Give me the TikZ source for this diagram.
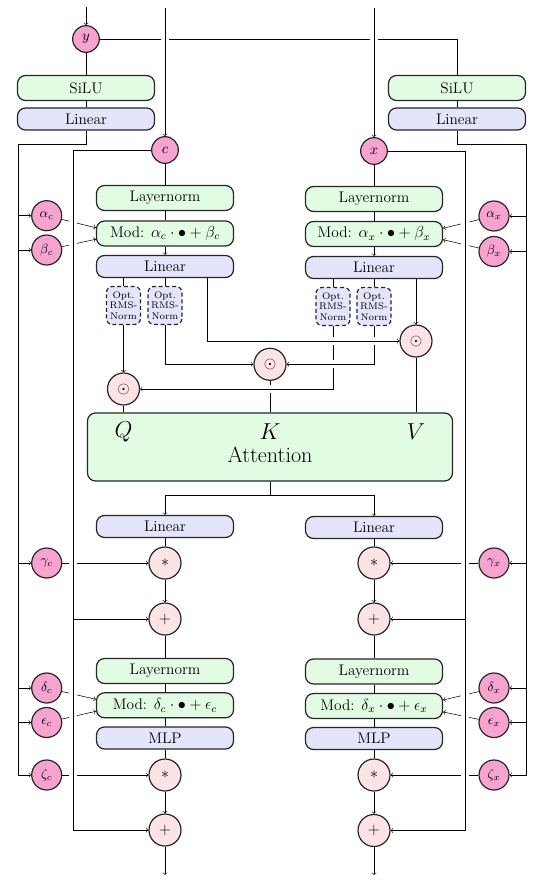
\documentclass[tikz,border=0pt]{standalone}
\usetikzlibrary{calc}
\definecolor{pinkc}{RGB}{246,163,208}
\definecolor{greenf}{RGB}{226,252,228}
\definecolor{bluef}{RGB}{228,228,250}
\definecolor{opf}{RGB}{252,228,230}
\pgfdeclarelayer{bg}
\pgfsetlayers{bg,main}
\tikzset{
  base/.style={draw=black!85, line width=0.9pt, inner sep=0pt},
  gbox/.style={base, rounded corners=6pt, fill=greenf, minimum width=102.75pt, minimum height=18.75pt, font=\fontsize{11.5}{13}\selectfont},
  bbox/.style={gbox, fill=bluef, minimum height=16.5pt},
  rms/.style={base, dashed, dash pattern=on 3pt off 2pt, rounded corners=4.5pt, fill=bluef, minimum width=25.5pt, minimum height=28.5pt, align=center, font=\fontsize{7.2}{7.8}\selectfont},
  inp/.style={base, circle, fill=pinkc, minimum size=20pt, font=\fontsize{11}{13}\selectfont},
  par/.style={base, circle, fill=pinkc, minimum size=22.5pt, font=\fontsize{10}{12}\selectfont},
  op/.style={base, circle, fill=opf, minimum size=24pt, font=\fontsize{11.5}{13}\selectfont},
  attbox/.style={base, rounded corners=6pt, fill=greenf, minimum width=273.75pt, minimum height=51pt},
  qkv/.style={inner sep=0pt, font=\fontsize{16.6}{19}\selectfont},
  halo/.style={preaction={draw=white, line width=6pt, -}},
}
\begin{document}
\begin{tikzpicture}[x=0.75pt,y=-0.75pt, line width=0.9pt, >=to]
\useasboundingbox (0,0) rectangle (538,880);
% top conditioning
\node[inp] (yin) at (86,39) {$y$};
\node[gbox] (siluL) at (86,88) {SiLU};
\node[bbox] (linL) at (86,119) {Linear};
\node[gbox] (siluR) at (457,88) {SiLU};
\node[bbox] (linR) at (457,119) {Linear};
\node[inp] (cin) at (165,150) {$c$};
\node[inp] (xin) at (374,151) {$x$};
% first block
\node[gbox] (lnc1) at (165,198) {Layernorm};
\node[gbox] (modc1) at (165,233.5) {Mod: $\alpha_c\cdot\bullet+\beta_c$};
\node[bbox] (linc1) at (165,266.5) {Linear};
\node[gbox] (lnx1) at (374,199) {Layernorm};
\node[gbox] (modx1) at (374,234) {Mod: $\alpha_x\cdot\bullet+\beta_x$};
\node[bbox] (linx1) at (374,267.5) {Linear};
\node[rms] (rmsqc) at (123.5,305.5) {Opt.\\RMS-\\Norm};
\node[rms] (rmskc) at (165,305.5) {Opt.\\RMS-\\Norm};
\node[rms] (rmsqx) at (333,306.5) {Opt.\\RMS-\\Norm};
\node[rms] (rmskx) at (374,306.5) {Opt.\\RMS-\\Norm};
\node[op] (oq) at (123.5,389) {$\odot$};
\node[op] (ok) at (270,364.3) {$\odot$};
\node[op] (ov) at (416,341) {$\odot$};
\node[attbox] (attn) at (270,447) {};
\node[qkv] (lq) at (123.5,432) {$Q$};
\node[qkv] (lk) at (270,432) {$K$};
\node[qkv] (lv) at (416,432) {$V$};
\node[qkv] (latt) at (270,455) {Attention};
% after attention
\node[bbox] (linc2) at (165,526.5) {Linear};
\node[bbox] (linx2) at (374,527.5) {Linear};
\node[op] (mulc1) at (165,563) {$*$};
\node[op] (addc1) at (165,619) {$+$};
\node[op] (mulx1) at (374,563) {$*$};
\node[op] (addx1) at (374,619) {$+$};
\node[gbox] (lnc2) at (165,671) {Layernorm};
\node[gbox] (modc2) at (165,705.3) {Mod: $\delta_c\cdot\bullet+\epsilon_c$};
\node[bbox] (mlpc) at (165,738) {MLP};
\node[gbox] (lnx2) at (374,671.5) {Layernorm};
\node[gbox] (modx2) at (374,706) {Mod: $\delta_x\cdot\bullet+\epsilon_x$};
\node[bbox] (mlpx) at (374,738.5) {MLP};
\node[op] (mulc2) at (165,775) {$*$};
\node[op] (addc2) at (165,830) {$+$};
\node[op] (mulx2) at (374,775) {$*$};
\node[op] (addx2) at (374,830.5) {$+$};
% parameter circles
\node[par] (ac) at (46.7,215.7) {$\alpha_c$};
\node[par] (bc) at (46.7,250) {$\beta_c$};
\node[par] (gc) at (46.7,563) {$\gamma_c$};
\node[par] (dc) at (46.7,688) {$\delta_c$};
\node[par] (ec) at (46.7,722.5) {$\epsilon_c$};
\node[par] (zc) at (46.7,775) {$\zeta_c$};
\node[par] (ax) at (494,216) {$\alpha_x$};
\node[par] (bx) at (494,251.5) {$\beta_x$};
\node[par] (gx) at (494,563) {$\gamma_x$};
\node[par] (dx) at (494,688) {$\delta_x$};
\node[par] (ex) at (494,722.5) {$\epsilon_x$};
\node[par] (zx) at (494,775) {$\zeta_x$};
% coordinates
\coordinate (ytop) at (86,7);
\coordinate (ctop) at (165,8);
\coordinate (xtop) at (374,8);
\coordinate (tl1) at (18,144);
\coordinate (tl2) at (18,775);
\coordinate (tr1) at (526,144);
\coordinate (tr2) at (526,775);
\coordinate (rl2) at (73,830);
\coordinate (rr2) at (465,830.5);
\coordinate (outc) at (165,875);
\coordinate (outx) at (374,875);

\begin{pgfonlayer}{bg}
% top
\draw[->] (ytop) -- (yin.north);
\draw (yin.east) -| (siluR.north);
\draw[->,halo] (ctop) -- (cin.north);
\draw[->,halo] (xtop) -- (xin.north);
\draw (yin) -- (siluL);
\draw (siluL) -- (linL);
\draw (siluR) -- (linR);
% trunks
\draw[->] (linL.south) |- (tl1) -- (tl2) -- (zc.west);
\foreach \n in {ac,bc,gc,dc,ec} \draw[->] (tl1 |- \n) -- (\n.west);
\draw[->] (linR.south) |- (tr1) -- (tr2) -- (zx.east);
\foreach \n in {ax,bx,gx,dx,ex} \draw[->] (tr1 |- \n) -- (\n.east);
% parameter connectors
\draw[->] (ac) -- ([yshift=4.3pt]modc1.west);
\draw[->] (bc) -- ([yshift=-4.3pt]modc1.west);
\draw[->] (dc) -- ([yshift=4.5pt]modc2.west);
\draw[->] (ec) -- ([yshift=-4.5pt]modc2.west);
\draw[->] (gc) -- (mulc1);
\draw[->] (zc) -- (mulc2);
\draw[->] (ax) -- ([yshift=4.3pt]modx1.east);
\draw[->] (bx) -- ([yshift=-4.3pt]modx1.east);
\draw[->] (dx) -- ([yshift=4.5pt]modx2.east);
\draw[->] (ex) -- ([yshift=-4.5pt]modx2.east);
\draw[->] (gx) -- (mulx1);
\draw[->] (zx) -- (mulx2);
% residuals
\draw[->,halo] (cin.west) -| (rl2) -- (addc2.west);
\draw[->] (rl2 |- addc1) -- (addc1.west);
\draw[->,halo] (xin.east) -| (rr2) -- (addx2.east);
\draw[->] (rr2 |- addx1) -- (addx1.east);
% main columns
\draw (cin) -- (lnc1);
\draw (lnc1) -- (modc1);
\draw[->] (modc1) -- (linc1);
\draw (xin) -- (lnx1);
\draw (lnx1) -- (modx1);
\draw[->] (modx1) -- (linx1);
\draw (linc1.south -| rmsqc) -- (rmsqc.north);
\draw (linc1.south -| rmskc) -- (rmskc.north);
\draw (linx1.south -| rmsqx) -- (rmsqx.north);
\draw (linx1.south -| rmskx) -- (rmskx.north);
\draw[->] (rmsqc.south) -- (oq.north);
\draw[->] (rmskc.south) |- (ok.west);
\draw (oq.south) -- (oq |- attn.north);
\draw (ov.south) -- (ov |- attn.north);
\draw (ok.south) -- (ok |- attn.north);
\draw[->] (linx1.south -| ov) -- (ov.north);
\draw[->,halo] (rmsqx.south) |- (oq.east);
\draw[->,halo] (rmskx.south) |- (ok.east);
\draw[->,halo] ([xshift=31.5pt]linc1.south) |- (ov.west);
% after attention
\draw[->] (attn.south) -- ++(0,14) -| (linc2.north);
\draw[->] (attn.south) -- ++(0,14) -| (linx2.north);
\draw (linc2) -- (mulc1);
\draw[->] (mulc1) -- (addc1);
\draw (addc1) -- (lnc2);
\draw (lnc2) -- (modc2);
\draw (modc2) -- (mlpc);
\draw (mlpc) -- (mulc2);
\draw[->] (mulc2) -- (addc2);
\draw[->] (addc2) -- (outc);
\draw (linx2) -- (mulx1);
\draw[->] (mulx1) -- (addx1);
\draw (addx1) -- (lnx2);
\draw (lnx2) -- (modx2);
\draw (modx2) -- (mlpx);
\draw (mlpx) -- (mulx2);
\draw[->] (mulx2) -- (addx2);
\draw[->] (addx2) -- (outx);
\end{pgfonlayer}
\end{tikzpicture}
\end{document}
